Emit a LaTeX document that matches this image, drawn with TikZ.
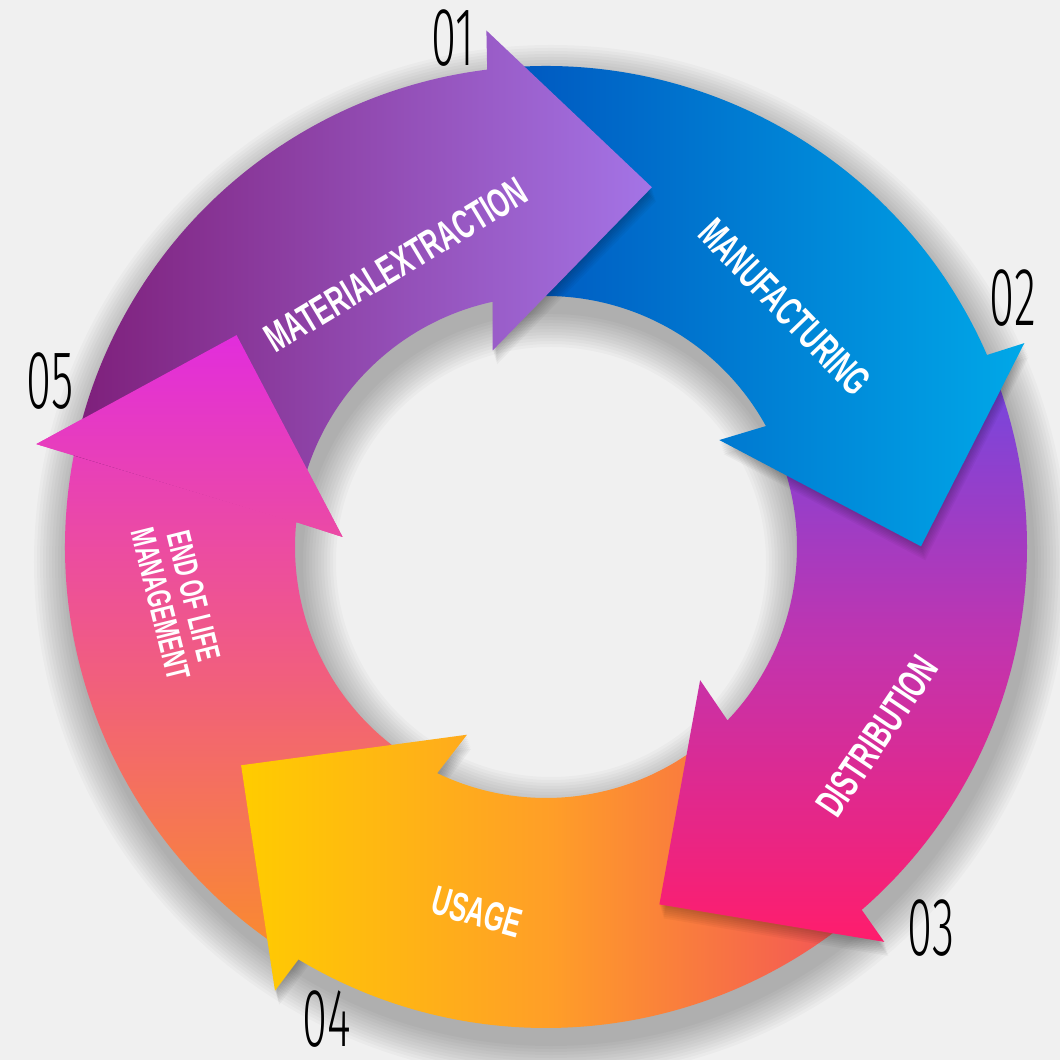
\documentclass[tikz,border=0pt]{standalone}
\usepackage{fontspec}
\newfontfamily\labelfont{Liberation Sans}
\newfontfamily\numfont{Fira Sans Light}
\definecolor{cycleBg}{HTML}{F0F0F0}
\definecolor{extractL}{HTML}{7E1F7A}
\definecolor{extractR}{HTML}{A474E6}
\definecolor{manufL}{HTML}{0054BE}
\definecolor{manufR}{HTML}{00A8E8}
\definecolor{distT}{HTML}{6E48E2}
\definecolor{distM}{HTML}{C234AE}
\definecolor{distB}{HTML}{FF1D6C}
\definecolor{usageL}{HTML}{FFCC00}
\definecolor{usageM}{HTML}{FF9E28}
\definecolor{usageR}{HTML}{F2505A}
\definecolor{eolT}{HTML}{E22DDC}
\definecolor{eolM}{HTML}{F05A86}
\definecolor{eolB}{HTML}{FA8C2C}
\begin{document}
\begin{tikzpicture}[
  lbl/.style={text=white, inner sep=0pt, font=\labelfont\bfseries\fontsize{11.6}{12}\selectfont},
  num/.style={text=black, inner sep=0pt, font=\numfont\fontsize{23.5}{24}\selectfont},
  headshadow/.style={black, opacity=0.035},
  extractshade/.style={left color=extractL, right color=extractR},
  manufshade/.style={left color=manufL, right color=manufR},
  distshade/.style={top color=distT, bottom color=distB, middle color=distM},
  usageshade/.style={left color=usageL, right color=usageR, middle color=usageM},
  eolshade/.style={top color=eolT, bottom color=eolB, middle color=eolM}
]
% Cycle of five block arrows round one ring
\def\ringR{4.81}
\def\ringr{2.51}
\providecommand{\cycleText}[1]{\scalebox{0.63}[1]{#1}}
\providecommand{\cycleNum}[1]{\scalebox{0.55}[1]{#1}}
% #1 = head angle of the arrow before, #2 = own head angle
\providecommand{\cycleArrowPath}[2]{%
  ({#1-1.973}:\ringR) arc[start angle={#1-1.973}, end angle={#2-1.973}, radius=\ringR]
  -- ({#2-2.416}:5.1996) -- ({#2-25.4}:3.75) -- ({#2+6.178}:2.0368)
  -- ({#2+3.309}:\ringr) arc[start angle={#2+3.309}, end angle={#1+3.309}, radius=\ringr]
  -- cycle}
% #1 = head angle
\providecommand{\cycleHeadPath}[1]{%
  ({#1-2.416}:5.1996) -- ({#1-25.4}:3.75) -- ({#1+6.178}:2.0368) -- cycle}
\useasboundingbox (-5.46,-5.13) rectangle (5.14,5.47);
% Background
\fill[cycleBg] (-5.46,-5.13) rectangle (5.14,5.47);
% Soft shadow under the ring
\begin{scope}[shift={(0.05,-0.15)}]
  \foreach \d in {0.03,0.06,...,0.37}
    \fill[black, opacity=0.022, even odd rule] (0,0) circle ({\ringR+\d}) (0,0) circle ({\ringr-\d});
\end{scope}
% Arrows, last one first so each head lies on the next tail
\shade[eolshade] \cycleArrowPath{-119}{-189};
\foreach \s in {0.02,0.04,...,0.14}
  \fill[headshadow, shift={(0.3*\s,-\s)}] \cycleHeadPath{-119};
\shade[usageshade] \cycleArrowPath{-47}{-119};
\foreach \s in {0.02,0.04,...,0.14}
  \fill[headshadow, shift={(0.3*\s,-\s)}] \cycleHeadPath{-47};
\shade[distshade] \cycleArrowPath{25.5}{-47};
\foreach \s in {0.02,0.04,...,0.14}
  \fill[headshadow, shift={(0.3*\s,-\s)}] \cycleHeadPath{25.5};
\shade[manufshade] \cycleArrowPath{99}{25.5};
\foreach \s in {0.02,0.04,...,0.14}
  \fill[headshadow, shift={(0.3*\s,-\s)}] \cycleHeadPath{99};
\shade[extractshade] \cycleArrowPath{171}{99};
% Head of the last arrow again, over the tail of the first
\begin{scope}
  \clip \cycleArrowPath{171}{99};
  \foreach \s in {0.02,0.04,...,0.14}
    \fill[headshadow, shift={(0.3*\s,-\s)}] \cycleHeadPath{-189};
\end{scope}
\begin{scope}
  \clip \cycleHeadPath{-189};
  \shade[eolshade] \cycleArrowPath{-119}{-189};
\end{scope}
% Labels
\node[lbl, rotate=31] (extract) at (-1.50,2.82) {\cycleText{MATERIALEXTRACTION}};
\node[lbl, rotate=-46] (manuf) at (2.39,2.40) {\cycleText{MANUFACTURING}};
\node[lbl, rotate=56] (dist) at (3.31,-1.89) {\cycleText{DISTRIBUTION}};
\node[lbl, rotate=-16] (usage) at (-0.69,-3.65) {\cycleText{USAGE}};
\node[lbl, rotate=-76, align=center, font=\labelfont\bfseries\fontsize{9.6}{9.7}\selectfont] (eol) at (-3.69,-0.53)
  {\cycleText{END OF LIFE}\\\cycleText{MANAGEMENT}};
% Step numbers
\node[num] (n01) at (-0.93,5.09) {\cycleNum{01}};
\node[num] (n02) at (4.67,2.49) {\cycleNum{02}};
\node[num] (n03) at (3.85,-3.81) {\cycleNum{03}};
\node[num] (n04) at (-2.19,-4.72) {\cycleNum{04}};
\node[num] (n05) at (-4.96,1.66) {\cycleNum{05}};
\end{tikzpicture}
\end{document}
